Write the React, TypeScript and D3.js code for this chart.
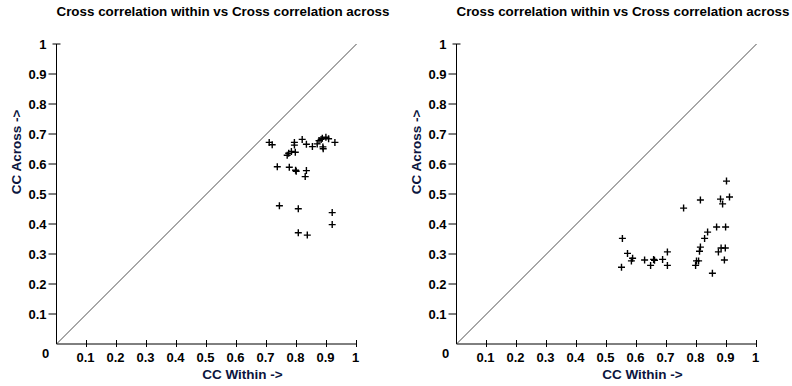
import React from "react";
import * as d3 from "d3";

// left panel: (cc within, cc across)
const leftWithin = [0.709, 0.719, 0.793, 0.793, 0.819, 0.833, 0.853, 0.869, 0.875, 0.882, 0.886, 0.898, 0.907, 0.888, 0.889, 0.928,
  0.769, 0.774, 0.783, 0.796, 0.736, 0.776, 0.797, 0.799, 0.833, 0.829, 0.743, 0.806, 0.919, 0.919, 0.806, 0.836];
const leftAcross = [0.672, 0.664, 0.672, 0.663, 0.682, 0.666, 0.658, 0.667, 0.678, 0.682, 0.686, 0.689, 0.684, 0.657, 0.651, 0.672,
  0.629, 0.636, 0.642, 0.639, 0.591, 0.589, 0.579, 0.576, 0.578, 0.558, 0.461, 0.451, 0.438, 0.398, 0.371, 0.363];

// right panel
const rightWithin = [0.900, 0.910, 0.880, 0.887, 0.813, 0.757, 0.867, 0.897, 0.837, 0.827, 0.813, 0.810, 0.882, 0.896, 0.873, 0.893,
  0.800, 0.807, 0.797, 0.853, 0.553, 0.570, 0.587, 0.583, 0.550, 0.627, 0.647, 0.657, 0.660, 0.687, 0.703, 0.703];
const rightAcross = [0.543, 0.490, 0.483, 0.467, 0.480, 0.453, 0.390, 0.390, 0.373, 0.352, 0.323, 0.309, 0.320, 0.320, 0.307, 0.280,
  0.277, 0.277, 0.262, 0.236, 0.352, 0.302, 0.286, 0.277, 0.256, 0.280, 0.262, 0.282, 0.279, 0.282, 0.307, 0.262];

const tickValues = [0, 0.1, 0.2, 0.3, 0.4, 0.5, 0.6, 0.7, 0.8, 0.9, 1];
const title = "Cross correlation within vs Cross correlation across";
const xLabel = "CC Within ->";
const yLabel = "CC Across ->";

const W = 792;
const H = 386;
const plotSize = 300;
const top = 44;
const labelColor = "#0b1540";
const font = "'Liberation Sans', Arial, sans-serif";

type PanelProps = { ox: number; xs: number[]; ys: number[] };

const Panel = ({ ox, xs, ys }: PanelProps) => {
  const x = d3.scaleLinear().domain([0, 1]).range([ox, ox + plotSize]);
  const y = d3.scaleLinear().domain([0, 1]).range([top + plotSize, top]);
  const pts = xs.map((v, i) => [v, ys[i]]);
  const diag = d3.line<number>().x(d => x(d)).y(d => y(d));

  return (
    <g>
      <text x={ox} y={16} fontFamily={font} fontWeight="bold" fontSize={13} textLength={333} lengthAdjust="spacingAndGlyphs">
        {title}
      </text>

      {/* axes */}
      <line x1={x(0)} x2={x(1)} y1={y(0)} y2={y(0)} stroke="#000" strokeWidth={1} />
      <line x1={x(0)} x2={x(0)} y1={y(0)} y2={y(1)} stroke="#000" strokeWidth={1} />
      <path d={diag([0, 1]) || ""} stroke="#222" strokeWidth={0.8} fill="none" />

      {tickValues.filter(t => t > 0).map(t => (
        <g key={"x" + t}>
          <line x1={x(t)} x2={x(t)} y1={y(0) - 4} y2={y(0) + 3} stroke="#000" />
          <text x={x(t) - 1} y={y(0) + 18} textAnchor="middle" fontFamily={font} fontWeight="bold" fontSize={13}>
            {t}
          </text>
        </g>
      ))}
      {tickValues.filter(t => t > 0).map(t => (
        <g key={"y" + t}>
          <line x1={x(0) - (t === 1 ? 4 : 8)} x2={x(0) + (t === 1 ? 4 : 0)} y1={y(t)} y2={y(t)} stroke="#000" />
          <text x={x(0) - 10} y={y(t) + 4.5} textAnchor="end" fontFamily={font} fontWeight="bold" fontSize={13}>
            {t}
          </text>
        </g>
      ))}
      <text x={x(0) - 11} y={y(0) + 14} textAnchor="middle" fontFamily={font} fontWeight="bold" fontSize={13}>0</text>

      <text x={x(0.62)} y={y(0) + 35} textAnchor="middle" fontFamily={font} fontWeight="bold" fontSize={13.5} fill={labelColor}>
        {xLabel}
      </text>
      <text transform={`translate(${x(0) - 36},${y(0.64)}) rotate(-90)`} textAnchor="middle" fontFamily={font}
        fontWeight="bold" fontSize={13.5} fill={labelColor}>
        {yLabel}
      </text>

      {pts.map((p, i) => (
        <path key={i} d={`M${x(p[0]) - 3.5},${y(p[1])}h7M${x(p[0])},${y(p[1]) - 3.5}v7`} stroke="#000" strokeWidth={1.4} />
      ))}
    </g>
  );
};

const App = () => (
  <svg width={W} height={H} style={{ position: "absolute", left: 0, top: 0, background: "#fff" }}>
    <rect width={W} height={H} fill="#fff" />
    <Panel ox={56.5} xs={leftWithin} ys={leftAcross} />
    <Panel ox={456.5} xs={rightWithin} ys={rightAcross} />
  </svg>
);

export default App;
